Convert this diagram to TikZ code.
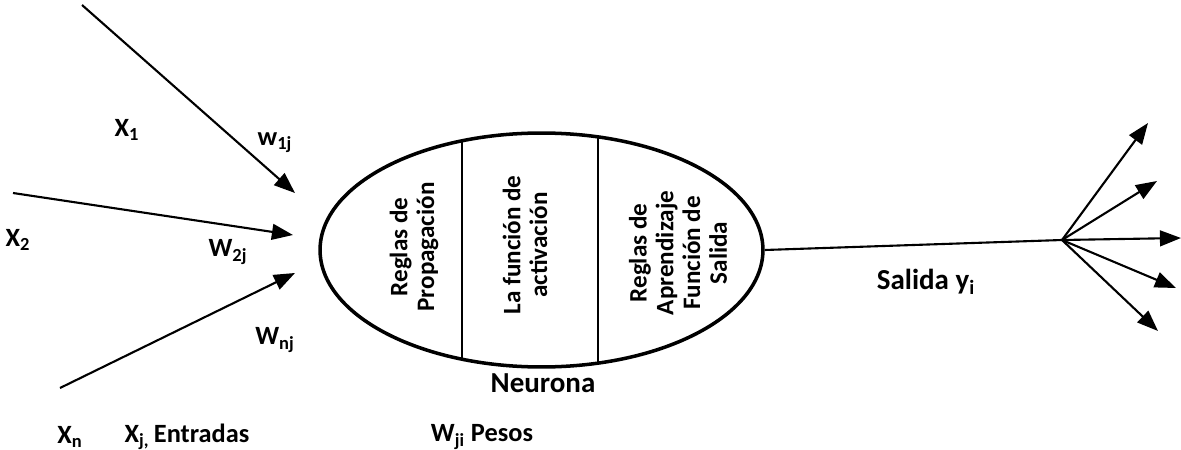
\documentclass[tikz,border=0pt]{standalone}
\usepackage{fontspec}
\setmainfont{Carlito}
\usetikzlibrary{arrows.meta,shapes.geometric}
\begin{document}
\begin{tikzpicture}[x=0.02cm,y=-0.02cm,
  lbl/.style={font=\bfseries\fontsize{15}{17}\selectfont, inner sep=0pt},
  biglbl/.style={font=\bfseries\fontsize{16.5}{19}\selectfont, inner sep=0pt},
  inner/.style={font=\bfseries\fontsize{14.3}{15.2}\selectfont, rotate=90, align=center, inner sep=0pt},
  arr/.style={line width=1.2pt, -{Triangle[length=12pt,width=9pt]}}]
\useasboundingbox (0,0) rectangle (1181,450);

% neuron body with three regions
\node[draw, ellipse, line width=2pt, minimum width=8.86cm, minimum height=4.68cm, inner sep=0pt] (neuron) at (541.5,250) {};
\begin{scope}
  \clip (541.5,250) ellipse [x radius=221.5, y radius=-117];
  \draw[line width=1pt] (462,100) -- (462,400);
  \draw[line width=1pt] (598,100) -- (598,400);
\end{scope}
\node[inner] (prop) at (414,247) {Reglas de\\Propagación};
\node[inner] (act) at (525,245) {La función de\\activación};
\node[inner] (apr) at (678,253) {Reglas de\\Aprendizaje\\Función de\\Salida};
\node[biglbl] (neuname) at (543,383) {Neurona};

% inputs
\coordinate (in1) at (82,5);
\coordinate (in1e) at (295,193);
\coordinate (in2) at (13,193);
\coordinate (in2e) at (293,235);
\coordinate (in3) at (60,388);
\coordinate (in3e) at (295,273);
\draw[arr] (in1) -- (in1e);
\draw[arr] (in2) -- (in2e);
\draw[arr] (in3) -- (in3e);

\node[lbl] (x1) at (127,130) {X\textsubscript{1}};
\node[lbl] (w1) at (275,143) {w\textsubscript{1j}};
\node[lbl] (x2) at (18,240) {X\textsubscript{2}};
\node[lbl] (w2) at (228,252) {W\textsubscript{2j}};
\node[lbl] (wn) at (275,340) {W\textsubscript{nj}};
\node[lbl] (xn) at (70,437) {X\textsubscript{n}};
\node[lbl] (xj) at (187,437) {X\textsubscript{j,}\,Entradas};
\node[lbl] (wji) at (482,437) {W\textsubscript{ji} Pesos};

% output
\coordinate (fan) at (1062,240);
\draw[line width=1.2pt] (neuron.east) -- (fan);
\node[biglbl] (sal) at (926,282) {Salida y\textsubscript{i}};
\coordinate (o1) at (1148,123);
\coordinate (o2) at (1157,181);
\coordinate (o3) at (1181,238);
\coordinate (o4) at (1176,288);
\coordinate (o5) at (1158,331);
\foreach \o in {o1,o2,o3,o4,o5}
  \draw[arr] (fan) -- (\o);
\end{tikzpicture}
\end{document}
